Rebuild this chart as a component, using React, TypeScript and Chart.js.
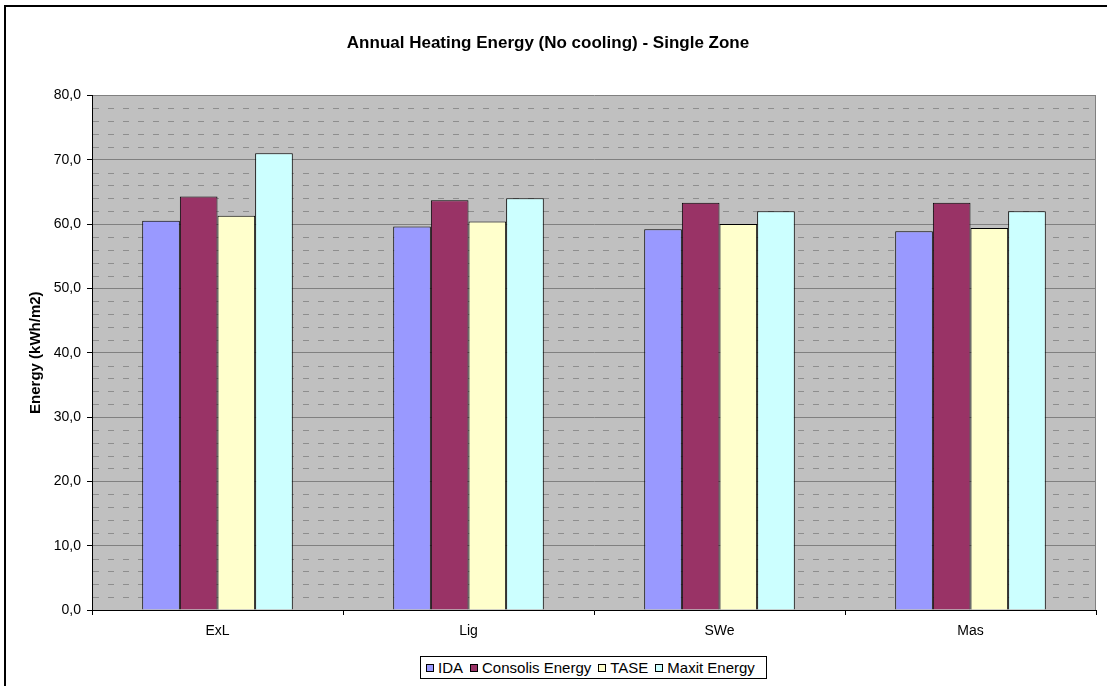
import React, { useEffect, useRef } from 'react';
import { Chart, registerables } from 'chart.js';

Chart.register(...registerables);

const chartTitle = 'Annual Heating Energy (No cooling) - Single Zone';
const yAxisTitle = 'Energy (kWh/m2)';
const categories = ['ExL', 'Lig', 'SWe', 'Mas'];
const seriesNames = ['IDA', 'Consolis Energy', 'TASE', 'Maxit Energy'];
const idaValues = [60.5, 59.6, 59.2, 58.9];
const consolisValues = [64.3, 63.7, 63.3, 63.3];
const taseValues = [61.3, 60.4, 60.0, 59.4];
const maxitValues = [71.0, 64.0, 62.0, 62.0];
const seriesColors = ['#9999FF', '#993366', '#FFFFCC', '#CCFFFF'];
const yMin = 0;
const yMax = 80;
const yMajorStep = 10;
const yMinorStep = 2;

const FONT = "'Liberation Sans', Arial, sans-serif";

const decoPlugin = {
  id: 'deco',
  beforeDraw(chart: any) {
    const { ctx, chartArea: a } = chart;
    ctx.save();
    ctx.fillStyle = '#ffffff';
    ctx.fillRect(0, 0, chart.width, chart.height);
    ctx.fillStyle = '#C0C0C0';
    ctx.fillRect(a.left, a.top, a.right - a.left, a.bottom - a.top);
    ctx.restore();
  },
  beforeDatasetsDraw(chart: any) {
    const { ctx, chartArea: a, scales } = chart;
    const y = scales.y;
    ctx.save();
    ctx.strokeStyle = '#8E8E8E';
    ctx.lineWidth = 1;
    ctx.setLineDash([6, 9]);
    for (let v = yMin; v <= yMax; v += yMinorStep) {
      if (v % yMajorStep === 0) continue;
      const py = Math.round(y.getPixelForValue(v)) + 0.5;
      ctx.beginPath();
      ctx.moveTo(a.left + 1, py);
      ctx.lineTo(a.right, py);
      ctx.stroke();
    }
    ctx.setLineDash([]);
    ctx.strokeStyle = '#808080';
    ctx.beginPath();
    const rx = Math.round(a.right) - 0.5;
    ctx.moveTo(rx, a.top);
    ctx.lineTo(rx, a.bottom);
    ctx.stroke();
    ctx.restore();
  },
  afterDraw(chart: any) {
    const { ctx } = chart;
    ctx.save();
    ctx.strokeStyle = '#000';
    ctx.lineWidth = 2;
    ctx.strokeRect(5, 6, chart.width + 10, chart.height + 10);
    ctx.restore();
  },
};

export default function App() {
  const ref = useRef<HTMLCanvasElement | null>(null);

  useEffect(() => {
    if (!ref.current) return;
    const valueSets = [idaValues, consolisValues, taseValues, maxitValues];
    const chart = new Chart(ref.current, {
      type: 'bar',
      data: {
        labels: categories,
        datasets: seriesNames.map((name, i) => ({
          label: name,
          data: valueSets[i],
          backgroundColor: seriesColors[i],
          borderColor: '#000000',
          borderWidth: 1,
          categoryPercentage: 0.6,
          barPercentage: 1.0,
        })),
      },
      options: {
        responsive: false,
        animation: false,
        layout: { padding: { left: 0, right: 22, top: 0, bottom: 0 } },
        plugins: {
          legend: { display: false },
          tooltip: { enabled: false },
          title: {
            display: true,
            text: chartTitle,
            color: '#000',
            font: { family: FONT, size: 17, weight: 'bold' },
            padding: { top: 33, bottom: 42 },
          },
        },
        scales: {
          x: {
            grid: {
              display: true,
              drawOnChartArea: false,
              drawTicks: true,
              tickLength: 5,
              tickColor: '#000',
              offset: true,
            },
            border: { display: true, color: '#000', width: 1 },
            ticks: {
              color: '#000',
              font: { family: FONT, size: 14 },
              padding: 8,
            },
            afterFit(scale: any) {
              scale.height = 76;
            },
          },
          y: {
            min: yMin,
            max: yMax,
            grid: {
              color: '#808080',
              tickColor: '#000',
              tickLength: 5,
              lineWidth: 1,
            },
            border: { display: true, color: '#000', width: 1 },
            ticks: {
              stepSize: yMajorStep,
              color: '#000',
              font: { family: FONT, size: 14 },
              padding: 6,
              callback: (v: any) => Number(v).toFixed(1).replace('.', ','),
            },
            title: {
              display: true,
              text: yAxisTitle,
              color: '#000',
              font: { family: FONT, size: 15, weight: 'bold' },
              padding: { top: 27, bottom: 0 },
            },
            afterFit(scale: any) {
              scale.width = 92;
            },
          },
        },
      },
      plugins: [decoPlugin],
    });
    return () => chart.destroy();
  }, []);

  const legendItems = seriesNames.map((name, i) => (
    <div key={name} style={{ display: 'flex', alignItems: 'center', marginRight: 7 }}>
      <div
        style={{
          width: 8,
          height: 8,
          boxSizing: 'border-box',
          border: '1px solid #000',
          background: seriesColors[i],
          marginRight: 4,
        }}
      />
      <span>{name}</span>
    </div>
  ));

  return (
    <div
      style={{
        position: 'absolute',
        left: 0,
        top: 0,
        width: 1107,
        height: 686,
        overflow: 'hidden',
        background: '#fff',
      }}
    >
      <canvas ref={ref} width={1118} height={686} style={{ display: 'block' }} />
      <div
        style={{
          position: 'absolute',
          left: 420,
          top: 656,
          width: 347,
          height: 23,
          boxSizing: 'border-box',
          border: '1px solid #000',
          background: '#fff',
          display: 'flex',
          alignItems: 'center',
          paddingLeft: 5,
          fontFamily: FONT,
          fontSize: 15,
          color: '#000',
          whiteSpace: 'nowrap',
          overflow: 'hidden',
        }}
      >
        {legendItems}
      </div>
    </div>
  );
}
